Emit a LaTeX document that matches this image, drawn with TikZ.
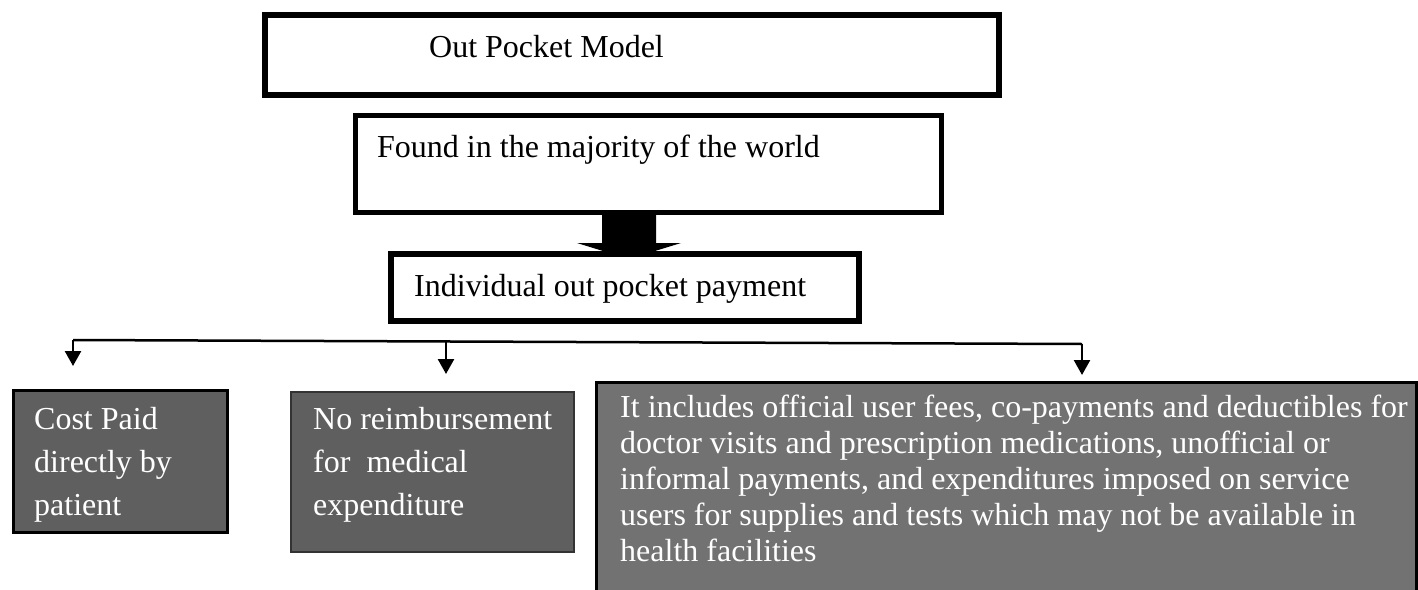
\documentclass[tikz,border=0pt]{standalone}
\usepackage{fontspec}
\setmainfont{Liberation Serif}
\usetikzlibrary{arrows.meta, calc}
\definecolor{cDark}{HTML}{5F5F5F}
\definecolor{cMid}{HTML}{727272}

\begin{document}
\begin{tikzpicture}[
    x=1pt, y=-1pt, font=\fontsize{32}{36}\selectfont,
    frame/.style={draw=black, fill=white, inner sep=0pt},
    tile/.style={draw=black, line width=3pt, fill=cDark, inner sep=0pt},
    txt/.style={anchor=base west, inner sep=0pt, align=left},
    wtxt/.style={txt, text=white},
    sig/.style={-{Triangle[width=16pt, length=15pt]}, line width=2.5pt},
    bus/.style={line width=2.5pt},
]
\useasboundingbox (0,0) rectangle (1418,589);

% ===================== Modelo =====================
\node[frame, line width=6pt, minimum width=734pt, minimum height=80pt]
      (model) at (632,55) {};
\node[txt] (modeltext) at (429,57) {Out Pocket Model};

\node[frame, line width=5pt, minimum width=586pt, minimum height=97pt]
      (world) at (648.5,164) {};
\node[txt] (worldtext) at (377,157) {Found in the majority of the world};

% ===================== Flecha de bloque =====================
\coordinate (flow) at (629,215);
\fill (flow) ++(-27,0) -- ++(54,0) -- ++(0,28) -- ++(25,0)
      -- ($(flow)+(0,44)$) -- ($(flow)+(-52,28)$) -- ($(flow)+(-27,28)$) -- cycle;

\node[frame, line width=6pt, minimum width=468pt, minimum height=67pt]
      (payment) at (625,287.5) {};
\node[txt] (paymenttext) at (414,296) {Individual out pocket payment};

% ===================== Reparto =====================
\coordinate (busL) at (73,340);
\coordinate (busM) at (446,341.5);
\coordinate (busR) at (1082,344);
\coordinate (tipL) at (73,366);
\coordinate (tipM) at (446,374);
\coordinate (tipR) at (1082,375);

\draw[bus] (busL) -- (busR);
\draw[sig] (busL) -- (tipL);
\draw[sig] ($(busM)+(0,-1.5)$) -- (tipM);
\draw[sig] (busR) -- (tipR);

% ===================== Rasgos =====================
% el texto se ancla en la línea base de su última línea
\node[tile, minimum width=214.6pt, minimum height=141.7pt]
      (cost) at (120.5,461.7) {};
\node[wtxt, font=\fontsize{32}{43}\selectfont] (costtext) at (34,515)
      {Cost Paid\\directly by\\patient};

\node[tile, draw=black!80, line width=2pt, minimum width=283pt, minimum height=160pt]
      (refund) at (432.5,472) {};
\node[wtxt, font=\fontsize{32}{43}\selectfont] (refundtext) at (313,515)
      {No reimbursement\\for\ \ medical\\expenditure};

\node[tile, fill=cMid, minimum width=820pt, minimum height=237.5pt]
      (fees) at (1006.5,501.25) {};
\node[wtxt, font=\fontsize{32}{36}\selectfont] (feestext) at (620,561)
      {It includes official user fees, co-payments and deductibles for\\
       doctor visits and prescription medications, unofficial or\\
       informal payments, and expenditures imposed on service\\
       users for supplies and tests which may not be available in\\
       health facilities};

\end{tikzpicture}
\end{document}
